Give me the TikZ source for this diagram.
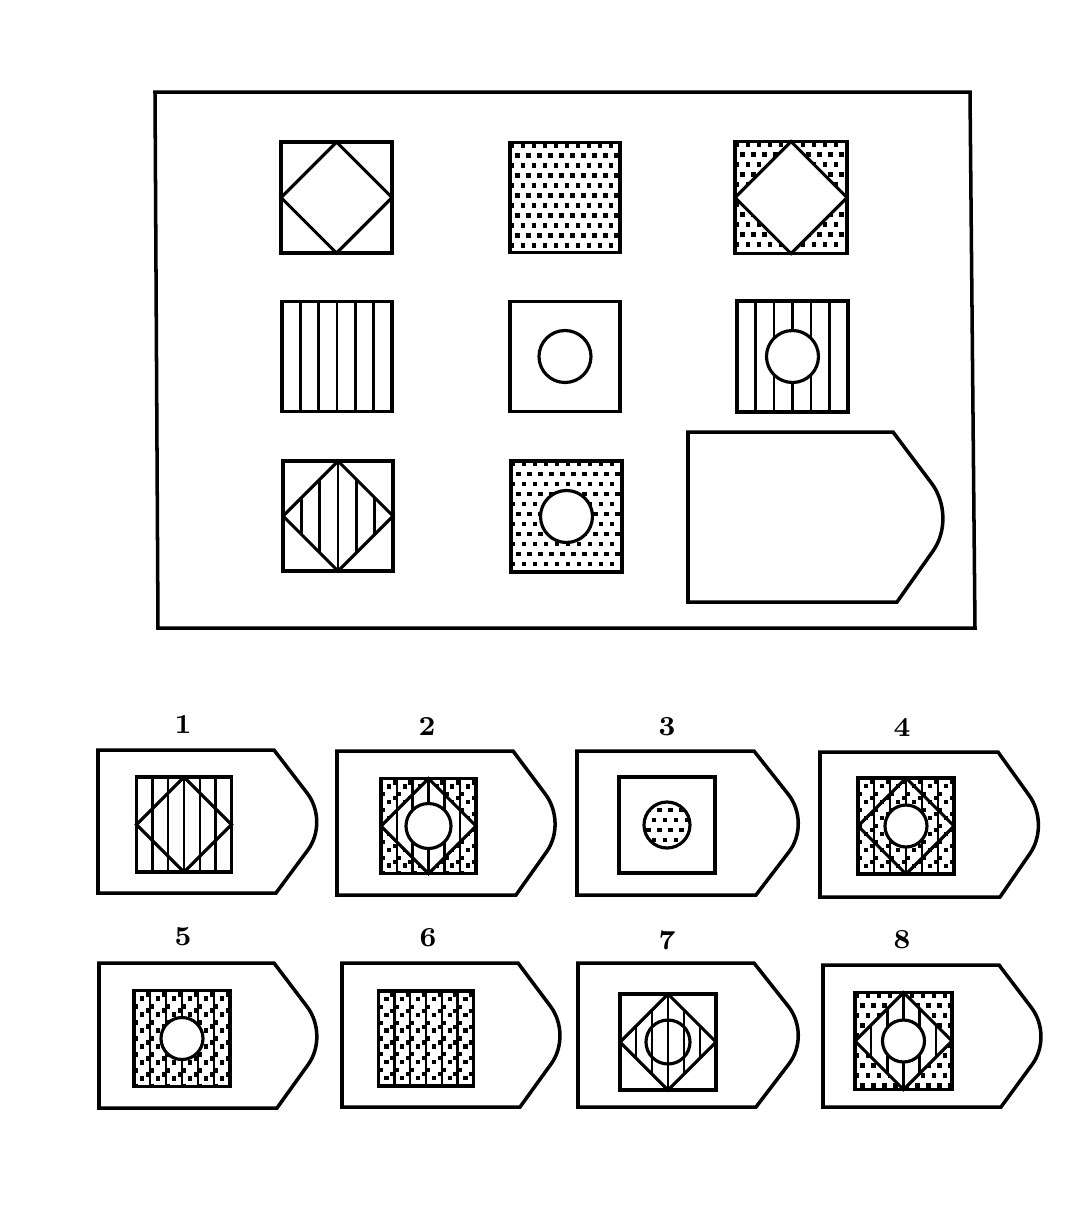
\documentclass[tikz,border=0pt]{standalone}
\usetikzlibrary{calc}
\newcommand\Csq{\draw[boxln] (-\hh,-\hh) rectangle (\hh,\hh);}
\newcommand\Cdiam{\draw[shpln] (0,-\hh) -- (\hh,0) -- (0,\hh) -- (-\hh,0) -- cycle;}
\newcommand\Cdiamwhite{\fill[white] (0,-\hh) -- (\hh,0) -- (0,\hh) -- (-\hh,0) -- cycle;}
\newcommand\Cdiamclip{\clip (0,-\hh) -- (\hh,0) -- (0,\hh) -- (-\hh,0) -- cycle;}
\newcommand\Cstripes{\foreach \k in {1,...,5}{\draw[strln] ({-\hh+\k*\hh/3},-\hh) -- ({-\hh+\k*\hh/3},\hh);}}
\newcommand\Ccirc[1]{\filldraw[shpln, fill=white] (0,0) circle[radius=#1];}
\newcommand\Cdots{\begin{scope}\clip (-\hh,-\hh) rectangle (\hh,\hh);
 \foreach \ri in {0,...,12}{\foreach \ci in {0,...,11}{%
   \fill ({-\hh+2+\ci*11+mod(\ri,2)*5.5-2.4},{-\hh+3+\ri*10-2.4}) rectangle ++(4.8,4.8);}}
 \end{scope}}
\newcommand\Csdots{\begin{scope}\clip (-\hh,-\hh) rectangle (\hh,\hh);
 \foreach \ci in {0,...,5}{\foreach \ri in {0,...,5}{%
   \pgfmathsetmacro\xl{-\hh+\ci*\hh/3}%
   \pgfmathsetmacro\yy{-\hh+\hh/6+\ri*\hh/3}%
   \fill (\xl+\hh/6-2.1,\yy-2.1) rectangle ++(4.2,4.2);
   \fill (\xl,\yy+\hh/6-2.1) rectangle ++(4.2,4.2);
   \fill (\xl+\hh/3-4.2,\yy-\hh/12-2.1) rectangle ++(4.2,4.2);
 }}\end{scope}}
\newcommand\Pent[6]{%
 \coordinate (pA) at (#3,#2);
 \coordinate (pT) at ({#3+#6},{(#2+#4)/2});
 \coordinate (pB) at (#5,#4);
 \draw[boxln] (#1,#2) -- (pA) -- ($(pA)!0.6!(pT)$) .. controls ($(pA)!0.83!(pT)$) and ($(pB)!0.83!(pT)$) .. ($(pB)!0.6!(pT)$) -- (pB) -- (#1,#4) -- cycle;}
\begin{document}
\begin{tikzpicture}[x=0.01cm,y=-0.01cm, line join=miter,
  boxln/.style={line width=1.0pt},
  strln/.style={line width=0.72pt},
  shpln/.style={line width=0.9pt},
  numlbl/.style={font=\fontsize{7.8}{9}\selectfont\bfseries, inner sep=0pt}]
\fill[white] (0,0) rectangle (1080,1208);
\useasboundingbox (0,0) rectangle (1080,1208);
% outer frame
\draw[boxln] (155,92) -- (970,92) -- (975,628) -- (158,628) -- cycle;
% matrix row 1
\begin{scope}[shift={(336.5,197.5)}]\def\hh{55.5}\Cdiam\Csq\end{scope}
\begin{scope}[shift={(565,197.5)}]\def\hh{55}\Cdots\Csq\end{scope}
\begin{scope}[shift={(791,197.5)}]\def\hh{56}\Cdots\Cdiamwhite\Cdiam\Csq\end{scope}
% row 2
\begin{scope}[shift={(337,356.5)}]\def\hh{55}\Cstripes\Csq\end{scope}
\begin{scope}[shift={(565,356.5)}]\def\hh{55}\Ccirc{26}\Csq\end{scope}
\begin{scope}[shift={(792.5,356.5)}]\def\hh{55.5}\Cstripes\Ccirc{26}\Csq\end{scope}
% row 3
\begin{scope}[shift={(338,516)}]\def\hh{55}\begin{scope}\Cdiamclip\Cstripes\end{scope}\Cdiam\Csq\end{scope}
\begin{scope}[shift={(566.5,516.5)}]\def\hh{55.5}\Cdots\Ccirc{26}\Csq\end{scope}
% blank answer slot
\Pent{688}{432}{893}{602}{897}{64}
% labels
\node[numlbl] (n1) at (183,724) {1};
\node[numlbl] (n2) at (427,726) {2};
\node[numlbl] (n3) at (667,727) {3};
\node[numlbl] (n4) at (902,727) {4};
\node[numlbl] (n5) at (183,937) {5};
\node[numlbl] (n6) at (428,938) {6};
\node[numlbl] (n7) at (667,940) {7};
\node[numlbl] (n8) at (902,940) {8};
% option 1
\Pent{98}{750}{274}{893}{276}{55}
\begin{scope}[shift={(184,824.5)}]\def\hh{47.5}\Cstripes\Cdiam\Csq\end{scope}
% option 2
\Pent{337}{751}{513}{895}{516}{54}
\begin{scope}[shift={(428.5,826)}]\def\hh{47.5}\Csdots\Cstripes\Cdiamwhite
 \begin{scope}\Cdiamclip\Cstripes\end{scope}\Ccirc{22.5}\Cdiam\Csq\end{scope}
% option 3
\Pent{577}{751}{754}{895}{756}{57}
\begin{scope}[shift={(667,825)}]\def\hh{48}\Csq
 \begin{scope}\clip (0,0) circle[radius=23];\Cdots\end{scope}
 \draw[shpln] (0,0) circle[radius=23];\end{scope}
% option 4
\Pent{820}{752}{998}{897}{1000}{52}
\begin{scope}[shift={(906,826)}]\def\hh{48}\Csdots\Cstripes\Cdiam\Ccirc{21}\Csq\end{scope}
% option 5
\Pent{99}{963}{274}{1108}{277}{55}
\begin{scope}[shift={(182,1038.5)}]\def\hh{48}\Csdots\Cstripes\Ccirc{21}\Csq\end{scope}
% option 6
\Pent{342}{963}{518}{1107}{520}{54}
\begin{scope}[shift={(426,1038.5)}]\def\hh{47.5}\Csdots\Cstripes\Csq\end{scope}
% option 7
\Pent{578}{963}{754}{1107}{756}{57}
\begin{scope}[shift={(668,1042)}]\def\hh{48}\begin{scope}\Cdiamclip\Cstripes\end{scope}\Cdiam
 \draw[shpln] (0,0) circle[radius=22];\Csq\end{scope}
% option 8
\Pent{823}{965}{999}{1107}{1001}{54}
\begin{scope}[shift={(903.5,1041)}]\def\hh{48.5}\Cdots\Cdiamwhite
 \begin{scope}\Cdiamclip\Cstripes\end{scope}\Ccirc{21}\Cdiam\Csq\end{scope}
\end{tikzpicture}
\end{document}
